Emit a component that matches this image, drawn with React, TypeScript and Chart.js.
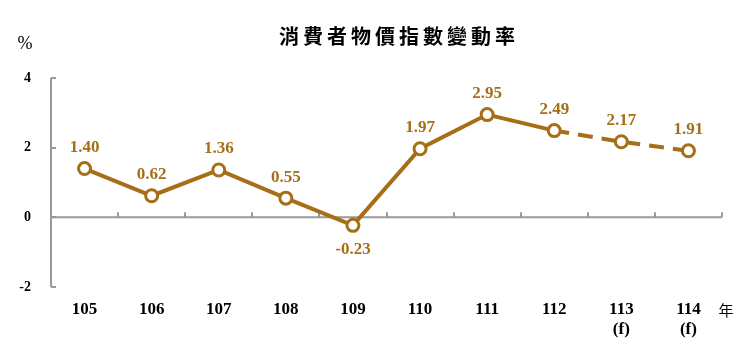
import React, { useEffect, useRef } from "react";
import { Chart, registerables } from "chart.js";

Chart.register(...registerables);

const title = "消費者物價指數變動率";
const unitLabel = "%";
const yearLabel = "年";
const categories: (string | string[])[] = ["105", "106", "107", "108", "109", "110", "111", "112", ["113", "(f)"], ["114", "(f)"]];
const values = [1.4, 0.62, 1.36, 0.55, -0.23, 1.97, 2.95, 2.49, 2.17, 1.91];
const valueLabels = ["1.40", "0.62", "1.36", "0.55", "-0.23", "1.97", "2.95", "2.49", "2.17", "1.91"];
const forecastStart = 7; // segments starting from this index are dashed
const yTicks = [-2, 0, 2, 4];

const LINE = "#A66F17";
const AXIS = "#999999";
const SERIF = "'Liberation Serif', 'Times New Roman', serif";
const CJK = "'Noto Sans CJK TC', 'Noto Sans CJK SC', sans-serif";

const decorPlugin = {
  id: "decor",
  beforeDatasetsDraw(chart: any) {
    const ctx = chart.ctx;
    const x = chart.scales.x;
    const y = chart.scales.y;
    const left = chart.chartArea.left;
    const right = chart.chartArea.right;
    const top = y.getPixelForValue(yTicks[yTicks.length - 1]);
    const bottom = y.getPixelForValue(yTicks[0]);
    const zero = y.getPixelForValue(0);
    ctx.save();
    ctx.strokeStyle = AXIS;
    ctx.lineWidth = 2;
    ctx.beginPath();
    ctx.moveTo(left, top);
    ctx.lineTo(left, bottom);
    for (const t of yTicks) {
      const py = Math.round(y.getPixelForValue(t));
      ctx.moveTo(left, py);
      ctx.lineTo(left + 5, py);
    }
    ctx.moveTo(left, zero);
    ctx.lineTo(right, zero);
    const n = categories.length;
    const step = n > 1 ? x.getPixelForValue(1) - x.getPixelForValue(0) : 0;
    for (let i = 0; i <= n; i++) {
      const px = Math.round(x.getPixelForValue(i) - step / 2);
      ctx.moveTo(px, zero);
      ctx.lineTo(px, zero - 5);
    }
    ctx.stroke();
    ctx.restore();
  },
  afterDraw(chart: any) {
    const ctx = chart.ctx;
    const x = chart.scales.x;
    const y = chart.scales.y;
    ctx.save();
    // title
    ctx.fillStyle = "#000";
    ctx.font = `bold 20px ${CJK}`;
    (ctx as any).letterSpacing = "4px";
    ctx.textAlign = "center";
    ctx.textBaseline = "middle";
    ctx.fillText(title, 399, 36);
    (ctx as any).letterSpacing = "0px";
    // unit
    ctx.font = `18px ${SERIF}`;
    ctx.fillText(unitLabel, 25, 44);
    // year
    ctx.font = `15px ${CJK}`;
    ctx.fillText(yearLabel, 726, 310);
    // value labels
    ctx.fillStyle = LINE;
    ctx.font = `bold 17px ${SERIF}`;
    values.forEach((v, i) => {
      const px = x.getPixelForValue(i);
      const py = y.getPixelForValue(v);
      const dy = v < 0 ? 24 : -21;
      ctx.fillText(valueLabels[i], px, py + dy);
    });
    ctx.restore();
  },
};

export default function App() {
  const ref = useRef<HTMLCanvasElement | null>(null);
  useEffect(() => {
    if (!ref.current) return;
    const chart = new Chart(ref.current, {
      type: "line",
      data: {
        labels: categories,
        datasets: [
          {
            data: values,
            borderColor: LINE,
            borderWidth: 4,
            pointRadius: 6,
            pointBorderWidth: 3,
            pointBackgroundColor: "#ffffff",
            pointBorderColor: LINE,
            tension: 0,
            segment: {
              borderDash: (c: any) => (c.p0DataIndex >= forecastStart ? [15, 9] : undefined),
            },
          },
        ],
      },
      options: {
        animation: false,
        responsive: false,
        devicePixelRatio: 1,
        layout: { padding: { left: 0, right: 33, top: 78, bottom: 0 } },
        plugins: { legend: { display: false }, tooltip: { enabled: false }, title: { display: false } },
        scales: {
          x: {
            offset: true,
            grid: { display: false, drawTicks: false },
            border: { display: false },
            ticks: { color: "#000", font: { family: SERIF, size: 17, weight: "bold" }, padding: 12, maxRotation: 0, autoSkip: false },
            afterFit: (s: any) => {
              s.height = 65;
            },
          },
          y: {
            min: -2,
            max: 4,
            grid: { display: false, drawTicks: false },
            border: { display: false },
            afterBuildTicks: (s: any) => {
              s.ticks = yTicks.map((v) => ({ value: v }));
            },
            ticks: { color: "#000", font: { family: SERIF, size: 14, weight: "bold" }, padding: 20 },
            afterFit: (s: any) => {
              s.width = 51;
            },
          },
        },
      },
      plugins: [decorPlugin],
    });
    return () => chart.destroy();
  }, []);
  return (
    <div style={{ position: "fixed", left: 0, top: 0, width: 755, height: 352, background: "#fff" }}>
      <canvas ref={ref} width={755} height={352} style={{ width: 755, height: 352 }} />
    </div>
  );
}
